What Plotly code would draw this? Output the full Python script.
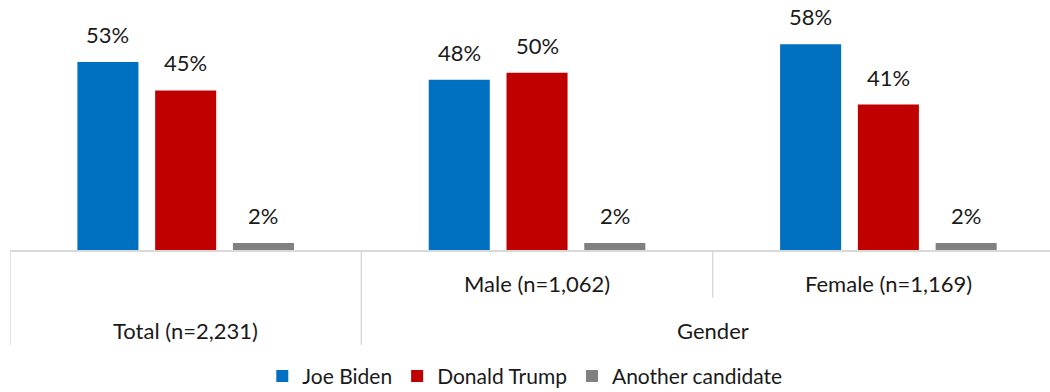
import plotly.graph_objects as go

# Survey results: vote choice by group
groups = ["Total (n=2,231)", "Male (n=1,062)", "Female (n=1,169)"]
parent_label = "Gender"
series = ["Joe Biden", "Donald Trump", "Another candidate"]
biden = [53, 48, 58]
trump = [45, 50, 41]
other = [2, 2, 2]
colors = ["#0070C0", "#C00000", "#808080"]

FONT = "Lato"
TXT = "#1a1a1a"
SIZE = 22
BARGAP = 0.336
GROUPGAP = 0.215

values = [biden, trump, other]
xs = list(range(len(groups)))

fig = go.Figure()
for name, vals, col in zip(series, values, colors):
    fig.add_trace(go.Bar(
        x=xs, y=vals, name=name,
        marker=dict(color=col, line=dict(width=0)),
        hoverinfo="skip",
    ))

# value labels above each bar, placed at the centre of each bar slot
slot = (1 - BARGAP) / len(series)
for i, vals in enumerate(values):
    off = (i - (len(series) - 1) / 2) * slot
    for g, v in zip(xs, vals):
        fig.add_annotation(
            x=g + off, y=v, xref="x", yref="y", text=f"{v}%",
            showarrow=False, yanchor="bottom", yshift=12,
            font=dict(family=FONT, size=SIZE, color=TXT),
        )

# multi-level category axis: separators and labels
line = dict(color="#D9D9D9", width=1.5)
fig.add_shape(type="line", xref="x", yref="paper", x0=-0.5, x1=-0.5, y0=0, y1=-0.38, line=line)
fig.add_shape(type="line", xref="x", yref="paper", x0=0.5, x1=0.5, y0=0, y1=-0.38, line=line)
fig.add_shape(type="line", xref="x", yref="paper", x0=1.5, x1=1.5, y0=0, y1=-0.19, line=line)

lab = dict(family=FONT, size=SIZE, color=TXT)
fig.add_annotation(x=0, y=-0.32, xref="x", yref="paper", text=groups[0],
                   showarrow=False, yanchor="middle", font=lab)
fig.add_annotation(x=1, y=-0.135, xref="x", yref="paper", text=groups[1],
                   showarrow=False, yanchor="middle", font=lab)
fig.add_annotation(x=2, y=-0.135, xref="x", yref="paper", text=groups[2],
                   showarrow=False, yanchor="middle", font=lab)
fig.add_annotation(x=1.5, y=-0.32, xref="x", yref="paper", text=parent_label,
                   showarrow=False, yanchor="middle", font=lab)

fig.update_layout(
    width=1050, height=392,
    margin=dict(l=10, r=0, t=0, b=142, autoexpand=False),
    paper_bgcolor="white", plot_bgcolor="white",
    barmode="group", bargap=BARGAP, bargroupgap=GROUPGAP,
    xaxis=dict(range=[-0.5, 2.46], showticklabels=False, showgrid=False,
               zeroline=False, showline=True, linecolor="#D9D9D9", linewidth=1.5,
               fixedrange=True),
    yaxis=dict(range=[0, 70.5], visible=False, fixedrange=True),
    showlegend=True,
    legend=dict(orientation="h", x=0.495, xanchor="center",
                yref="container", y=0.04, yanchor="middle",
                font=dict(family=FONT, size=21, color=TXT),
                itemwidth=30, tracegroupgap=0),
    font=dict(family=FONT, color=TXT),
)

fig.write_html("out.html", config={"displayModeBar": False})
